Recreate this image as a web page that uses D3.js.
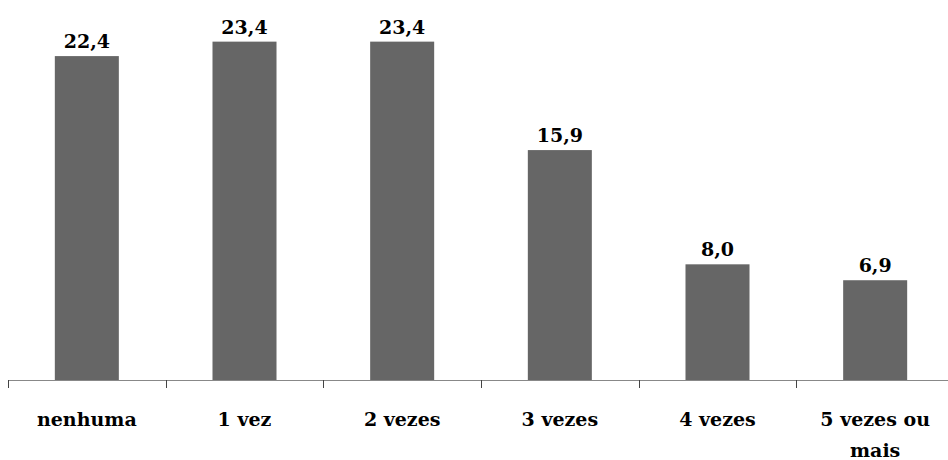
<!DOCTYPE html>
<html><head><meta charset="utf-8">
<script src="https://cdn.jsdelivr.net/npm/d3@7"></script>
<style>body{margin:0;background:#fff}svg{display:block}</style>
</head><body>
<script>
const categories = ["nenhuma", "1 vez", "2 vezes", "3 vezes", "4 vezes", "5 vezes ou mais"];
const values = [22.4, 23.4, 23.4, 15.9, 8.0, 6.9];
const valueLabels = ["22,4", "23,4", "23,4", "15,9", "8,0", "6,9"];

const W = 948, H = 460;
const svg = d3.select("body").append("svg").attr("width", W).attr("height", H);
const x = d3.scaleBand().domain(categories).range([8, 954]).paddingInner(0.594).paddingOuter(0.297);
const xb = d3.scaleBand().domain(categories).range([8, 954]);
const y = d3.scaleLinear().domain([0, 25]).range([380, 18.5]);
const font = "'DejaVu Serif', serif";

svg.selectAll("rect.bar").data(categories).enter().append("rect")
  .attr("x", d => x(d)).attr("width", x.bandwidth())
  .attr("y", (d, i) => y(values[i])).attr("height", (d, i) => y(0) - y(values[i]))
  .attr("fill", "#666666");

svg.selectAll("text.val").data(categories).enter().append("text")
  .attr("x", d => x(d) + x.bandwidth() / 2)
  .attr("y", (d, i) => y(values[i]) - 8)
  .attr("text-anchor", "middle")
  .attr("font-family", font).attr("font-weight", "bold").attr("font-size", 19)
  .attr("fill", "#000").text((d, i) => valueLabels[i]);

// axis
const ax = svg.append("g");
ax.append("line").attr("x1", 8).attr("x2", 954).attr("y1", 380.5).attr("y2", 380.5).attr("stroke", "#888").attr("stroke-width", 1);
ax.selectAll("line.tick").data(categories).enter().append("line")
  .attr("x1", d => Math.round(xb(d)) + 0.5).attr("x2", d => Math.round(xb(d)) + 0.5)
  .attr("y1", 380).attr("y2", 388).attr("stroke", "#444").attr("stroke-width", 1);

const lab = svg.selectAll("text.cat").data(categories).enter().append("text")
  .attr("text-anchor", "middle")
  .attr("font-family", font).attr("font-weight", "bold").attr("font-size", 19)
  .attr("fill", "#000");
lab.each(function(d) {
  const t = d3.select(this);
  const cx = xb(d) + xb.bandwidth() / 2;
  const lines = d === "5 vezes ou mais" ? ["5 vezes ou", "mais"] : [d];
  lines.forEach((l, j) => t.append("tspan").attr("x", cx).attr("y", 426 + j * 31).text(l));
});
</script>
</body></html>
